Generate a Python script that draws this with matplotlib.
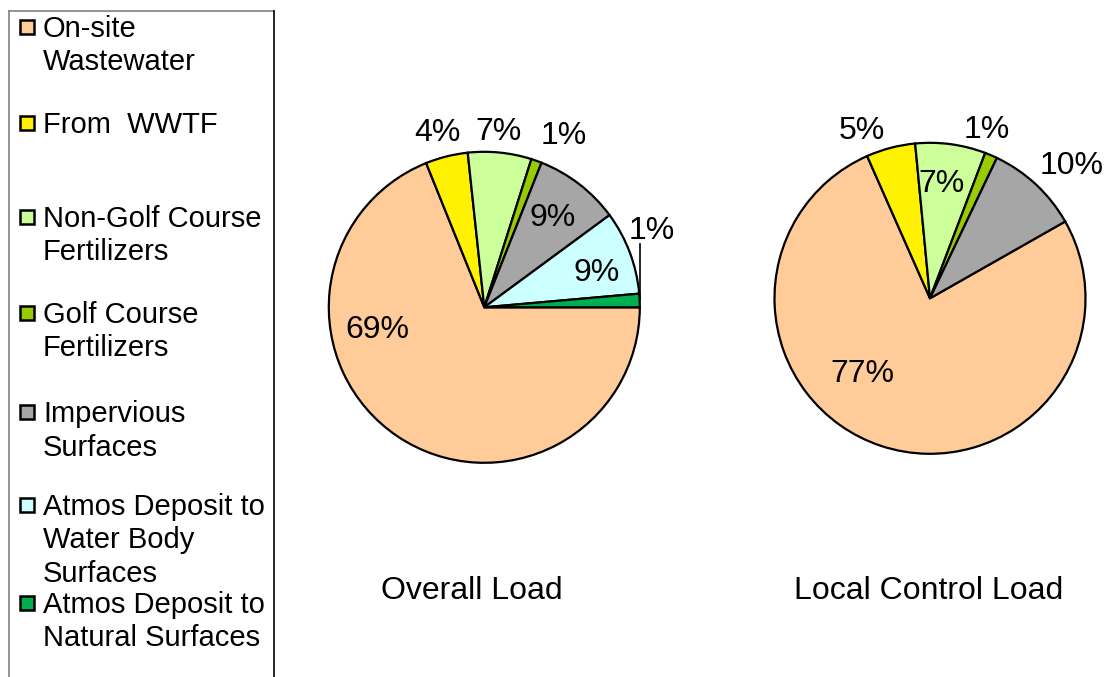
import matplotlib
matplotlib.use('Agg')
import matplotlib.pyplot as plt
import numpy as np

plt.rcParams['font.family'] = ['Liberation Sans', 'DejaVu Sans']

# ---------------- data ----------------
categories = ["On-site Wastewater", "From  WWTF", "Non-Golf Course Fertilizers",
              "Golf Course Fertilizers", "Impervious Surfaces",
              "Atmos Deposit to Water Body Surfaces", "Atmos Deposit to Natural Surfaces"]
legend_lines = [["On-site", "Wastewater"], ["From  WWTF"], ["Non-Golf Course", "Fertilizers"],
                ["Golf Course", "Fertilizers"], ["Impervious", "Surfaces"],
                ["Atmos Deposit to", "Water Body", "Surfaces"],
                ["Atmos Deposit to", "Natural Surfaces"]]
overall_load = [68.9, 4.4, 6.6, 1.1, 8.9, 8.7, 1.4]
local_control_load = [76.6, 5.1, 7.3, 1.3, 9.7, 0.0, 0.0]
colors = ["#FFCC99", "#FFF200", "#CCFF99", "#99CC00", "#A6A6A6", "#CCFFFF", "#00B050"]
titles = ["Overall Load", "Local Control Load"]

# ---------------- layout (pixel units, y measured from top) ----------------
W, H = 1104, 677
fig = plt.figure(figsize=(W / 100, H / 100), dpi=100)
ax = fig.add_axes([0, 0, 1, 1])

def py(y):
    return H - y

FS_PIE = 23
FS_LEG = 21
pies = [
    dict(values=overall_load, center=(484.3, 307.3), start=0.0, title_x=472,
         label_pos=[(0.70, 190.5), (1.18, 104.9), (1.15, 85.3), (1.23, 65.6),
                    (0.74, 53.3), (0.76, 18.5), (1.19, 25.4)],
         leader=[6]),
    dict(values=local_control_load, center=(930.0, 298.3), start=29.6, title_x=929,
         label_pos=[(0.64, 227.3), (1.18, 111.8), (0.76, 84.2), (1.16, 71.5), (1.26, 43.6)],
         leader=[]),
]
R = 155.5

for p, title in zip(pies, titles):
    vals = [v for v in p["values"] if v > 0]
    cols = [c for v, c in zip(p["values"], colors) if v > 0]
    cx, cy = p["center"][0], py(p["center"][1])
    wedges, _ = ax.pie(vals, colors=cols, center=(cx, cy), radius=R,
                       startangle=p["start"], counterclock=False,
                       wedgeprops=dict(edgecolor="black", linewidth=1.6))
    total = sum(vals)
    for i, (v, (rf, ang)) in enumerate(zip(vals, p["label_pos"])):
        lx = cx + rf * R * np.cos(np.radians(ang))
        ly = cy + rf * R * np.sin(np.radians(ang))
        ax.text(lx, ly - 11, f"{100 * v / total:.0f}%", ha="center", va="baseline",
                fontsize=FS_PIE, color="black")
        if i in p["leader"]:
            w = wedges[i]
            mid = np.radians((w.theta1 + w.theta2) / 2)
            ex = cx + R * np.cos(mid)
            ey = cy + R * np.sin(mid)
            ax.plot([ex, ex], [ey, ly - 16], color="black", lw=1.2)
    ax.text(p["title_x"], py(599), title, ha="center", va="baseline", fontsize=FS_PIE)

# ---------------- legend ----------------
ax.plot([9, 274], [py(11), py(11)], color="#808080", lw=1.2)
ax.plot([9, 9], [py(11), py(H + 5)], color="#808080", lw=1.2)
ax.plot([274, 274], [py(11), py(H + 5)], color="black", lw=1.2)

first_y = [27, 123, 217, 313, 412, 505, 603]
step = 33.5
sq = 14
for lines, y0, c in zip(legend_lines, first_y, colors):
    ax.add_patch(plt.Rectangle((27 - sq / 2, py(y0 - 0.5) - sq / 2), sq, sq,
                               facecolor=c, edgecolor="black", lw=1.8))
    for k, t in enumerate(lines):
        ax.text(43, py(y0 + k * step) - 10, t, ha="left", va="baseline", fontsize=FS_LEG)

ax.set_xlim(0, W)
ax.set_ylim(0, H)
ax.set_aspect("equal")
ax.axis("off")

fig.savefig("out.png", dpi=100)
